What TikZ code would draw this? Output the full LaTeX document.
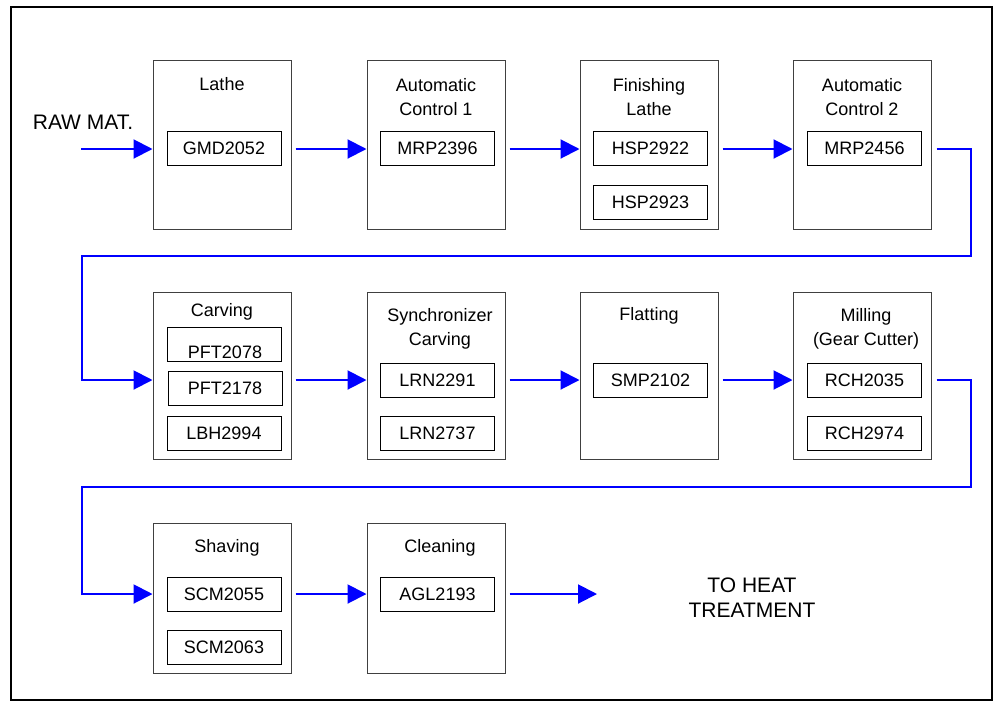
\documentclass[tikz,border=0pt]{standalone}
\usepackage{fontspec}
\setmainfont{Liberation Sans}
\usetikzlibrary{arrows.meta}
\begin{document}
\begin{tikzpicture}[x=1pt,y=-1pt,
  stage/.style={draw=black!75, line width=1pt, rectangle, inner sep=0pt, minimum width=138pt},
  unit/.style={draw=black, line width=0.9pt, rectangle, inner sep=0pt, minimum width=114pt, minimum height=34pt, font=\fontsize{18}{18}\selectfont},
  ttl/.style={inner sep=0pt, align=center, font=\fontsize{18}{23.5}\selectfont},
  big/.style={inner sep=0pt, align=center, font=\fontsize{21}{25}\selectfont},
  flowline/.style={blue, line width=2pt},
  flow/.style={flowline, -{Triangle[length=19pt,width=19pt]}}
]
\useasboundingbox (0,0) rectangle (995,702);
\draw[line width=2pt, black] (11,7) rectangle (992,700);

% row 1 stages
\node[stage, minimum height=169pt] (s1) at (222,144.5) {};
\node[stage, minimum height=169pt] (s2) at (436,144.5) {};
\node[stage, minimum height=169pt] (s3) at (649,144.5) {};
\node[stage, minimum height=169pt] (s4) at (862,144.5) {};
% row 2 stages
\node[stage, minimum height=167pt] (s5) at (222,375.5) {};
\node[stage, minimum height=167pt] (s6) at (436,375.5) {};
\node[stage, minimum height=167pt] (s7) at (649,375.5) {};
\node[stage, minimum height=167pt] (s8) at (862,375.5) {};
% row 3 stages
\node[stage, minimum height=150pt] (s9) at (222,598) {};
\node[stage, minimum height=150pt] (s10) at (436,598) {};

% titles
\node[ttl] (t1) at (222,84) {Lathe};
\node[ttl] (t2) at (436,97) {Automatic\\Control 1};
\node[ttl] (t3) at (649,97) {Finishing\\Lathe};
\node[ttl] (t4) at (862,97) {Automatic\\Control 2};
\node[ttl] (t5) at (222,312) {Carving};
\node[ttl] (t6) at (440,329) {Synchronizer\\Carving};
\node[ttl] (t7) at (649,316) {Flatting};
\node[ttl] (t8) at (866,329) {Milling\\(Gear Cutter)};
\node[ttl] (t9) at (227,548) {Shaving};
\node[ttl] (t10) at (440,548) {Cleaning};

% units
\node[unit] (u1) at (224,148.5) {GMD2052};
\node[unit] (u2) at (437.5,148.5) {MRP2396};
\node[unit] (u3) at (650.5,148.5) {HSP2922};
\node[unit] (u3b) at (650.5,202) {HSP2923};
\node[unit] (u4) at (864.5,148.5) {MRP2456};
\node[unit] (u5) at (224,344) {};
\node[inner sep=0pt, font=\fontsize{18}{18}\selectfont] (u5t) at (225,352) {PFT2078};
\node[unit] (u5b) at (225,388.5) {PFT2178};
\node[unit] (u5c) at (224,433) {LBH2994};
\node[unit] (u6) at (437.5,380) {LRN2291};
\node[unit] (u6b) at (437.5,433) {LRN2737};
\node[unit] (u7) at (650.5,380) {SMP2102};
\node[unit] (u8) at (864.5,380) {RCH2035};
\node[unit] (u8b) at (864.5,433) {RCH2974};
\node[unit] (u9) at (224,594) {SCM2055};
\node[unit] (u9b) at (224,647) {SCM2063};
\node[unit] (u10) at (437.5,594) {AGL2193};

% labels
\node[big] (raw) at (83,122) {RAW MAT.};
\node[big] (heat) at (752,598) {TO HEAT\\TREATMENT};

% coordinates
\coordinate (in) at (81,149);
\coordinate (w1a) at (971,149);
\coordinate (w1b) at (971,256);
\coordinate (w1c) at (82,256);
\coordinate (w1d) at (82,380);
\coordinate (w2a) at (971,380);
\coordinate (w2b) at (971,487);
\coordinate (w2c) at (82,487);
\coordinate (w2d) at (82,594);
\coordinate (out) at (597,594);

% flow
\draw[flow] (in) -- (s1.west |- in);
\draw[flow] ([xshift=4pt]s1.east |- in) -- (s2.west |- in);
\draw[flow] ([xshift=4pt]s2.east |- in) -- (s3.west |- in);
\draw[flow] ([xshift=4pt]s3.east |- in) -- (s4.west |- in);
\draw[flow] ([xshift=5pt]s4.east |- in) -- (w1a) -- (w1b) -- (w1c) -- (w1d) -- (s5.west |- w1d);
\draw[flow] ([xshift=4pt]s5.east |- w1d) -- (s6.west |- w1d);
\draw[flow] ([xshift=4pt]s6.east |- w1d) -- (s7.west |- w1d);
\draw[flow] ([xshift=4pt]s7.east |- w1d) -- (s8.west |- w1d);
\draw[flow] ([xshift=5pt]s8.east |- w1d) -- (w2a) -- (w2b) -- (w2c) -- (w2d) -- (s9.west |- w2d);
\draw[flow] ([xshift=4pt]s9.east |- w2d) -- (s10.west |- w2d);
\draw[flow] ([xshift=4pt]s10.east |- w2d) -- (out);
\end{tikzpicture}
\end{document}
